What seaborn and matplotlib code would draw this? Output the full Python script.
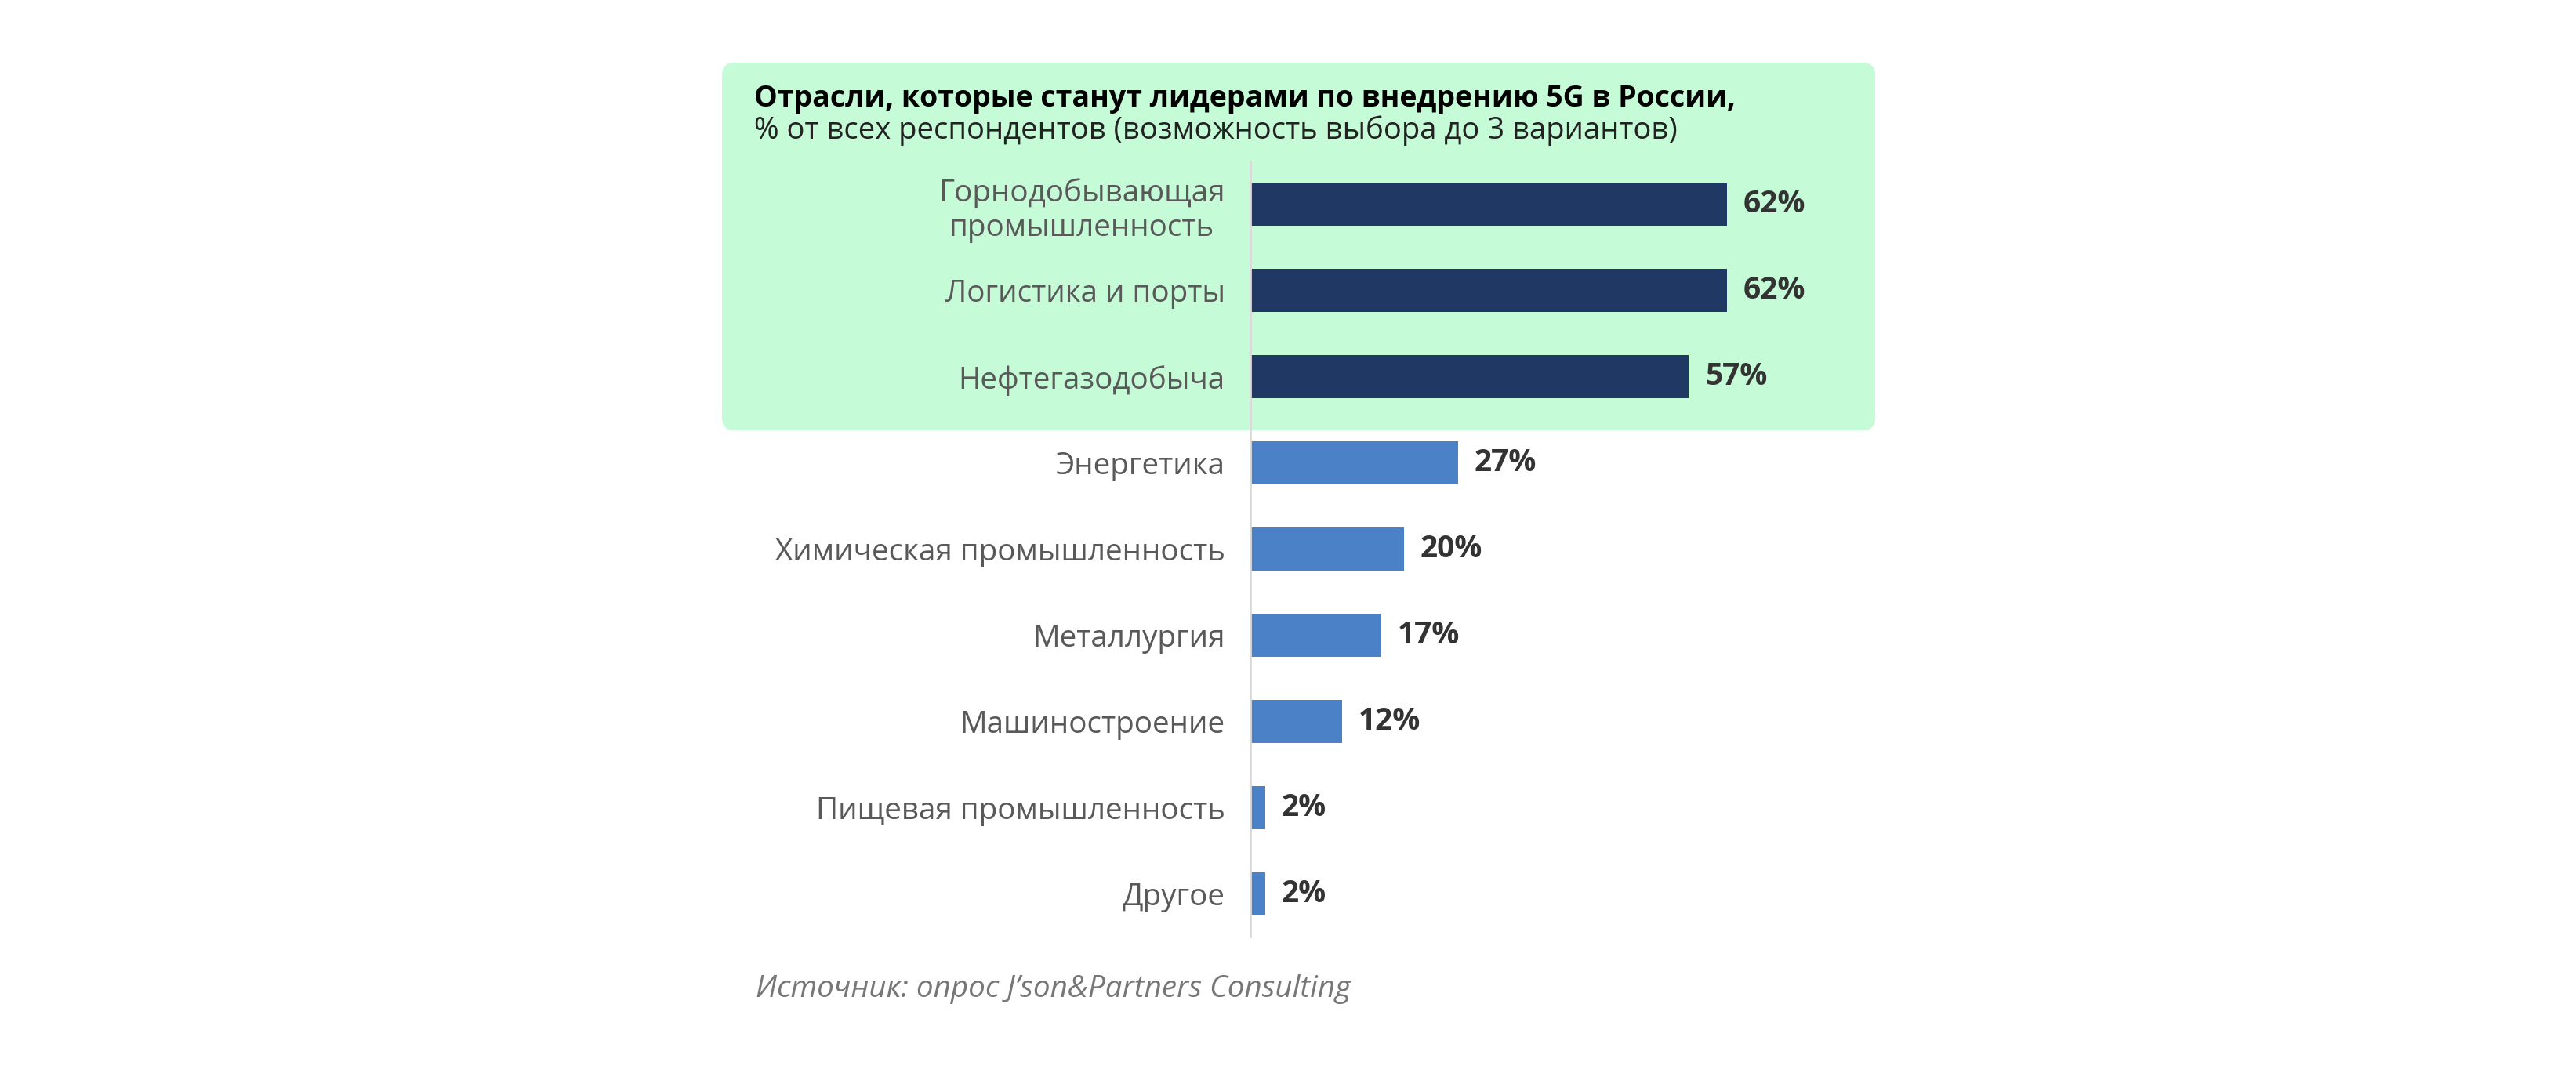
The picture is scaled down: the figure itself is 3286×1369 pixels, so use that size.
import matplotlib
matplotlib.use("Agg")
import matplotlib.pyplot as plt
from matplotlib.patches import FancyBboxPatch
import seaborn as sns
import pandas as pd

# data
industries = [
    "Горнодобывающая\nпромышленность",
    "Логистика и порты",
    "Нефтегазодобыча",
    "Энергетика",
    "Химическая промышленность",
    "Металлургия",
    "Машиностроение",
    "Пищевая промышленность",
    "Другое",
]
shares = [62, 62, 57, 27, 20, 17, 12, 2, 2]
leaders = [True, True, True, False, False, False, False, False, False]

title = "Отрасли, которые станут лидерами по внедрению 5G в России,"
subtitle = "% от всех респондентов (возможность выбора до 3 вариантов)"
source = "Источник: опрос J’son&Partners Consulting"

NAVY = "#1F3864"
BLUE = "#4A81C7"
MINT = "#C5FBD6"

sns.set_theme(style="white")
plt.rcParams["font.family"] = ["Open Sans", "DejaVu Sans"]

df = pd.DataFrame({"industry": industries, "share": shares})
colors = [NAVY if lead else BLUE for lead in leaders]

fig = plt.figure(figsize=(32.87, 13.69), dpi=100)

# mint highlight box behind the leading industries
box = FancyBboxPatch((9.21, 8.20), 14.71, 4.69,
                     boxstyle="round,pad=0,rounding_size=0.16",
                     transform=fig.dpi_scale_trans,
                     facecolor=MINT, edgecolor="none", zorder=-1)
fig.patches.append(box)

ax = fig.add_axes([0.4851, 0.1271, 0.2389, 0.7224])
ax.set_facecolor("none")

sns.barplot(data=df, x="share", y="industry", hue="industry",
            palette=colors, width=0.5, legend=False, ax=ax,
            saturation=1, linewidth=0)

ax.set_xlim(0, 80)
ax.set_ylim(8.5, -0.5)
ax.set_xlabel("")
ax.set_ylabel("")
ax.set_xticks([])
for side in ["top", "right", "bottom"]:
    ax.spines[side].set_visible(False)
ax.spines["left"].set_color("#D9D9D9")
ax.spines["left"].set_linewidth(2)

ax.tick_params(axis="y", length=0, pad=23, labelsize=27.8, labelcolor="#595959")
for lbl in ax.get_yticklabels():
    lbl.set_multialignment("center")

for container in ax.containers:
    ax.bar_label(container, labels=[f"{v:.0f}%" for v in container.datavalues],
                 padding=15, fontsize=28, fontweight="bold", color="#333333")

fig.text(0.2927, 1 - 136 / 1369, title, fontsize=27, fontweight="bold",
         color="black", va="baseline", ha="left")
fig.text(0.2927, 1 - 177 / 1369, subtitle, fontsize=27.5,
         color="#222222", va="baseline", ha="left")
fig.text(0.2933, 1 - 1272 / 1369, source, fontsize=27.8, style="italic",
         color="#777777", va="baseline", ha="left")

fig.savefig("out.png", dpi=100)
